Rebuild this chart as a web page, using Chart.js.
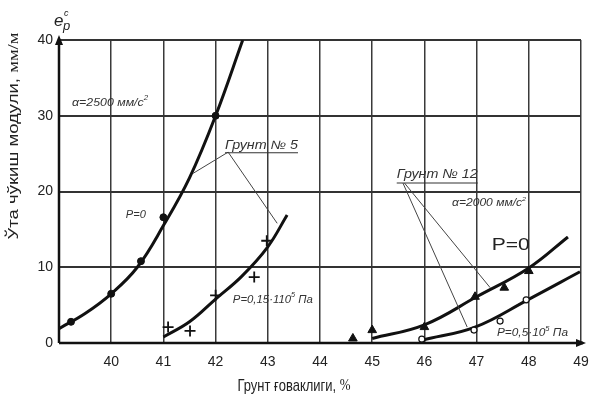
<!DOCTYPE html>
<html><head><meta charset="utf-8">
<script src="https://cdn.jsdelivr.net/npm/chart.js@4/dist/chart.umd.min.js"></script>
<style>html,body{margin:0;padding:0;background:#fff}#wrap{width:593px;height:400px}</style>
</head><body><div id="wrap"><canvas id="c" width="593" height="400"></canvas></div>
<script>
// ---- tick labels ----
const xTickLabels = [40, 41, 42, 43, 44, 45, 46, 47, 48, 49];
const yTickLabels = [0, 10, 20, 30, 40];

// ---- Грунт № 5, P=0 (α=2500) ----
const soil5P0LineX = [39, 39.5, 40, 40.5, 41, 41.5, 42, 42.52];
const soil5P0LineY = [1.9, 3.9, 6.5, 10.0, 15.5, 21.8, 30.0, 40.0];
const soil5P0PtsX = [39.23, 40.0, 40.57, 41.0, 42.0];
const soil5P0PtsY = [2.8, 6.5, 10.8, 16.6, 30.0];

// ---- Грунт № 5, P=0,15·10^5 Па ----
const soil5P15LineX = [41.0, 41.5, 42.0, 42.5, 43.0, 43.37];
const soil5P15LineY = [0.8, 2.8, 5.8, 8.8, 12.7, 16.9];
const soil5P15PtsX = [41.09, 41.51, 42.0, 42.74, 42.98];
const soil5P15PtsY = [2.1, 1.6, 6.3, 8.7, 13.5];

// ---- Грунт № 12, P=0 (α=2000) ----
const soil12P0LineX = [45.0, 46.0, 47.0, 48.0, 48.75];
const soil12P0LineY = [0.6, 2.4, 6.1, 9.9, 14.0];
const soil12P0PtsX = [44.63, 45.0, 46.0, 46.97, 47.53, 48.0];
const soil12P0PtsY = [0.6, 1.7, 2.1, 6.1, 7.3, 9.5];

// ---- Грунт № 12, P=0,5·10^5 Па ----
const soil12P5LineX = [45.97, 46.97, 47.98, 48.98];
const soil12P5LineY = [0.4, 2.1, 5.7, 9.4];
const soil12P5PtsX = [45.95, 46.95, 47.45, 47.95];
const soil12P5PtsY = [0.5, 1.7, 2.9, 5.7];

// ---- leader lines (data coords): [apexX, apexY, endX, endY] ----
const leaders5 = [[42.24, 25.2, 41.57, 22.4], [42.24, 25.2, 43.18, 15.8]];
const leaders12 = [[45.59, 21.1, 46.82, 2.1], [45.62, 21.1, 47.26, 7.3]];

const zip = (xs, ys) => xs.map((x, i) => ({x, y: ys[i]}));
const SANS = '"Liberation Sans", Arial, sans-serif';
const SERIF = '"Liberation Serif", "Times New Roman", serif';
const INK = '#111';

function drawRich(ctx, parts, x, y, o) {
  const fontOf = p => `${o.italic ? 'italic ' : ''}${o.weight || 'normal'} ${p[1] ? Math.round(o.size * 0.62) : o.size}px ${p[2] || SANS}`;
  ctx.save();
  let total = 0; const ws = [];
  parts.forEach(p => { ctx.font = fontOf(p); const w = ctx.measureText(p[0]).width; ws.push(w); total += w; });
  const k = o.width ? o.width / total : 1;
  ctx.translate(x, y);
  if (o.rotate) ctx.rotate(o.rotate);
  ctx.scale(k, 1);
  ctx.fillStyle = o.color || '#333';
  ctx.textBaseline = 'middle';
  ctx.textAlign = 'left';
  let cx = o.align === 'center' ? -total / 2 : 0;
  const start = cx;
  parts.forEach((p, i) => {
    ctx.font = fontOf(p);
    ctx.fillText(p[0], cx, p[1] ? -o.size * 0.4 : 0);
    cx += ws[i];
  });
  if (o.underline) {
    ctx.strokeStyle = o.color || '#333';
    ctx.lineWidth = 1;
    ctx.beginPath();
    ctx.moveTo(start, o.size * 0.62);
    ctx.lineTo(start + total, o.size * 0.62);
    ctx.stroke();
  }
  ctx.restore();
}

const notes = [
  {x: 39.25, y: 31.7, parts: [['α=2500 мм/с'], ['2', 1]], size: 11, italic: true, width: 76},
  {x: 40.28, y: 16.9, parts: [['P=0']], size: 10, italic: true, width: 20},
  {x: 42.18, y: 26.1, parts: [['Грунт № 5']], size: 12, italic: true, width: 73, underline: true},
  {x: 42.33, y: 5.7, parts: [['P=0,15·110'], ['5', 1], [' Па']], size: 11, italic: true, width: 80},
  {x: 45.47, y: 22.2, parts: [['Грунт № 12']], size: 13, italic: true, width: 81, underline: true},
  {x: 46.53, y: 18.5, parts: [['α=2000 мм/с'], ['2', 1]], size: 10, italic: true, width: 74},
  {x: 47.29, y: 12.9, parts: [['P=0']], size: 17, italic: false, width: 38, color: '#222'},
  {x: 47.39, y: 1.3, parts: [['P=0,5·10'], ['5', 1], [' Па']], size: 11, italic: true, width: 71},
];

const decor = {
  id: 'decor',
  afterDatasetsDraw(chart) {
    const {ctx, chartArea: a, scales: {x, y}} = chart;
    ctx.save();
    ctx.strokeStyle = '#444';
    ctx.lineWidth = 1;
    [...leaders5, ...leaders12].forEach(l => {
      ctx.beginPath();
      ctx.moveTo(x.getPixelForValue(l[0]), y.getPixelForValue(l[1]));
      ctx.lineTo(x.getPixelForValue(l[2]), y.getPixelForValue(l[3]));
      ctx.stroke();
    });
    ctx.restore();
    notes.forEach(n => drawRich(ctx, n.parts, x.getPixelForValue(n.x), y.getPixelForValue(n.y), n));
    ctx.save();
    ctx.fillStyle = INK; ctx.strokeStyle = INK; ctx.lineWidth = 2.5;
    ctx.beginPath(); ctx.moveTo(a.left, a.bottom); ctx.lineTo(a.left, a.top); ctx.stroke();
    ctx.beginPath(); ctx.moveTo(a.left, a.bottom); ctx.lineTo(a.right + 2, a.bottom); ctx.stroke();
    ctx.beginPath(); ctx.moveTo(a.left, a.top - 5); ctx.lineTo(a.left - 4, a.top + 5); ctx.lineTo(a.left + 4, a.top + 5); ctx.closePath(); ctx.fill();
    ctx.beginPath(); ctx.moveTo(a.right + 5, a.bottom); ctx.lineTo(a.right - 5, a.bottom - 4); ctx.lineTo(a.right - 5, a.bottom + 4); ctx.closePath(); ctx.fill();
    ctx.restore();
    ctx.save();
    ctx.fillStyle = '#222'; ctx.textBaseline = 'alphabetic'; ctx.textAlign = 'left';
    ctx.font = 'italic 17px ' + SANS; ctx.fillText('e', a.left - 5, a.top - 14);
    ctx.font = 'italic 13px ' + SANS; ctx.fillText('p', a.left + 4, a.top - 10);
    ctx.font = 'italic 9px ' + SANS; ctx.fillText('c', a.left + 5, a.top - 24);
    ctx.restore();
    drawRich(ctx, [['Ўта чўкиш модули, '], ['мм/м', 0, SERIF]], 14, 136,
      {size: 15, width: 207, rotate: -Math.PI / 2, align: 'center', color: '#222'});
    drawRich(ctx, [['Грунт ғоваклиги, '], ['%', 0, SERIF]], 294, 386,
      {size: 17, width: 113, align: 'center', color: '#222'});
  }
};

const lineDs = (xs, ys) => ({
  data: zip(xs, ys), borderColor: INK, borderWidth: 3, pointRadius: 0,
  tension: 0.4, fill: false, order: 5
});

new Chart(document.getElementById('c'), {
  type: 'line',
  data: {
    datasets: [
      lineDs(soil5P0LineX, soil5P0LineY),
      lineDs(soil5P15LineX, soil5P15LineY),
      lineDs(soil12P0LineX, soil12P0LineY),
      lineDs(soil12P5LineX, soil12P5LineY),
      {data: zip(soil5P0PtsX, soil5P0PtsY), showLine: false, pointStyle: 'circle', pointRadius: 3.5,
       pointBackgroundColor: INK, pointBorderColor: INK, order: 1, clip: false},
      {data: zip(soil5P15PtsX, soil5P15PtsY), showLine: false, pointStyle: 'cross', pointRadius: 5.5,
       pointBorderWidth: 1.8, pointBorderColor: INK, order: 1, clip: false},
      {data: zip(soil12P0PtsX, soil12P0PtsY), showLine: false, pointStyle: 'triangle', pointRadius: 5,
       pointBackgroundColor: INK, pointBorderColor: INK, order: 1, clip: false},
      {data: zip(soil12P5PtsX, soil12P5PtsY), showLine: false, pointStyle: 'circle', pointRadius: 3,
       pointBackgroundColor: '#fff', pointBorderColor: INK, pointBorderWidth: 1.2, order: 1, clip: false},
    ]
  },
  options: {
    responsive: false, animation: false, devicePixelRatio: 1,
    layout: {padding: {top: 40, right: 12, left: 0, bottom: 0}},
    plugins: {legend: {display: false}, tooltip: {enabled: false}},
    scales: {
      x: {
        type: 'linear', min: 39, max: 49,
        afterFit: s => { s.height = 57; s.paddingLeft = 0; s.paddingRight = 0; },
        ticks: {stepSize: 1, autoSkip: false, maxRotation: 0, padding: 11, color: '#222',
          font: {size: 14, family: SANS},
          callback: v => xTickLabels.includes(v) ? String(v) : ''},
        grid: {color: '#3a3a3a', lineWidth: 1.5, drawTicks: false},
        border: {display: false}
      },
      y: {
        type: 'linear', min: 0, max: 40,
        afterFit: s => { s.width = 59; s.paddingTop = 0; s.paddingBottom = 0; },
        ticks: {stepSize: 10, padding: 6, color: '#222', font: {size: 14, family: SANS},
          callback: v => yTickLabels.includes(v) ? String(v) : ''},
        grid: {color: '#333', lineWidth: 2, drawTicks: false},
        border: {display: false}
      }
    }
  },
  plugins: [decor]
});
</script>
</body></html>
